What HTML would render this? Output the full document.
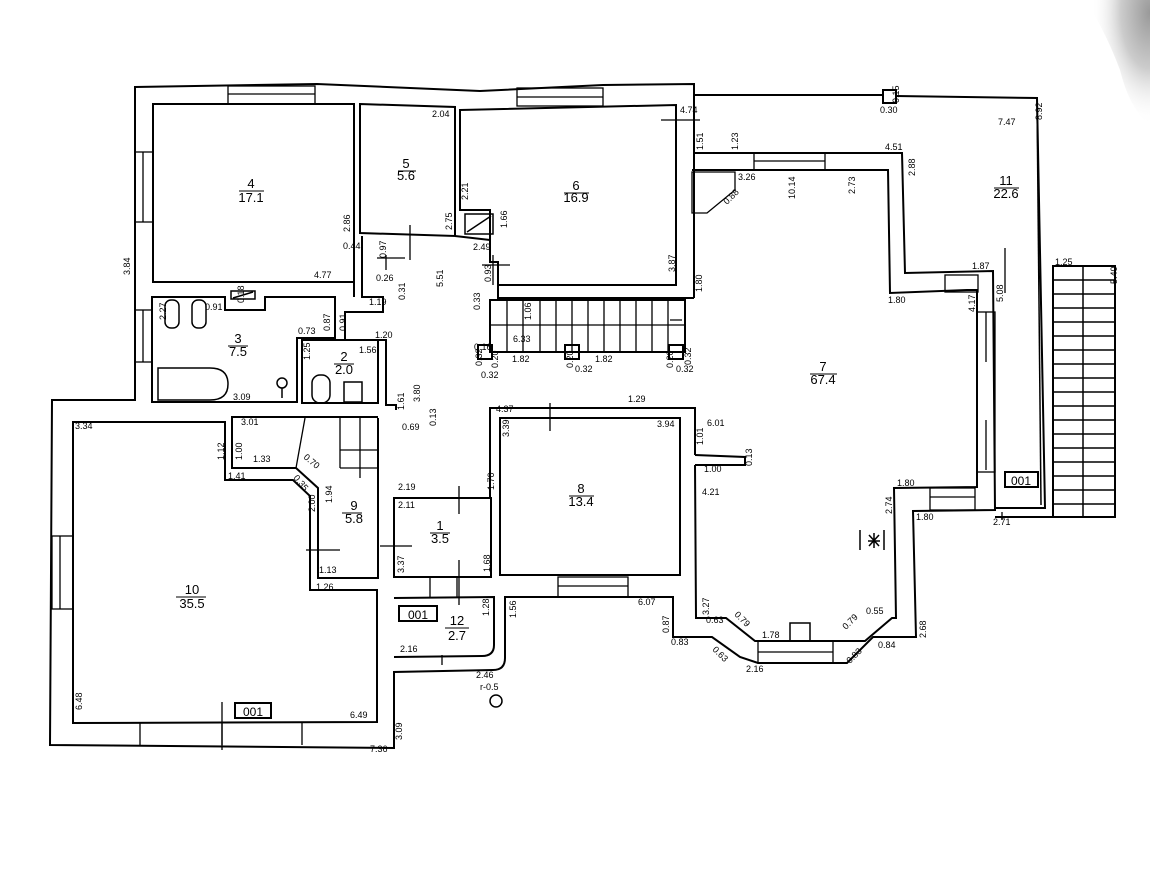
<!DOCTYPE html>
<html><head><meta charset="utf-8"><style>
html,body{margin:0;padding:0;background:#fff;}
svg{display:block;}
text{font-family:"Liberation Sans",sans-serif;fill:#000;}
.d{font-size:9px;}
.n{font-size:13px;font-family:"Liberation Serif",serif;}
</style></head><body>
<svg width="1150" height="894" viewBox="0 0 1150 894" xmlns="http://www.w3.org/2000/svg">
<defs>
<radialGradient id="sm" cx="1" cy="0.1" r="0.9">
<stop offset="0" stop-color="#555"/><stop offset="0.5" stop-color="#aaa"/><stop offset="1" stop-color="#fff" stop-opacity="0"/>
</radialGradient>
</defs>
<rect width="1150" height="894" fill="#fff"/>
<path d="M1085 0 L1150 0 L1150 125 Q1130 110 1120 70 Q1105 30 1085 0Z" fill="url(#sm)" opacity="0.6"/>
<g fill="none" stroke="#000" stroke-width="2">
<path d="M135 87 L317 84 L480 91 L603 85 L694 84 L694 153 L902 153 L905 273 L993 271 L995 510 L913 511 L916 637 L873 637 L847 663 L758 663 L740 657 L712 637 L673 637 L673 597 L505 597 L505 658 Q505 670 493 670 L394 672 L394 748 L50 745 L52 400 L135 400 Z"/>
<path d="M694 95 L883 95 M896 96 L1037 98 L1045 508 L995 508"/>
<path d="M1037 100 L1041 505" stroke-width="1.5"/>
<rect x="883" y="90" width="13" height="13"/>
<path d="M995 517 L1115 517"/>
<rect x="153" y="104" width="201" height="178"/>
<path d="M360 104 L455 107 L455 236 L360 233 Z"/>
<path d="M460 110 L676 105 L676 285 L498 285 L498 262 L490 262 L490 210 L460 210 Z"/>
<path d="M694 153 L694 298"/>
<path d="M354 282 L354 297 M362 236 L362 297 L383 297 L383 312 L345 312 L345 340 L386 340 L386 405 L396 405 L396 410 M455 236 L490 240 L490 210"/>
<path d="M498 285 L498 298 L694 298"/>
<path d="M152 297 L225 297 L225 310 L265 310 L265 297 L335 297 L335 338 L297 338 L297 402 L152 402 Z"/>
<rect x="302" y="340" width="76" height="63"/>
<rect x="490" y="300" width="195" height="52"/>
<path d="M490 325 L685 325 M507 300v52 M523 300v52 M540 300v52 M556 300v52 M572 300v52 M588 300v52 M604 300v52 M620 300v52 M636 300v52 M652 300v52 M668 300v52" stroke-width="1.3"/>
<rect x="478" y="345" width="14" height="14"/><rect x="565" y="345" width="14" height="14"/><rect x="669" y="345" width="14" height="14"/>
<path d="M692 170 L888 170 L890 293 L967 290 L977 290 L977 487 L894 488 L896 618 L892 618 L865 641 L755 641 L726 618 L696 618 L695 465 M695 455 L695 408 L490 408 L490 497"/>
<path d="M695 455 L745 457 L745 465 L695 465"/>
<path d="M692 172 L735 172 L735 190 L707 213 L692 213 Z" stroke-width="1.3"/>
<rect x="500" y="418" width="180" height="157"/>
<rect x="394" y="498" width="97" height="79"/>
<path d="M394 598 L494 597 L494 645 Q494 656 482 656 L394 657"/>
<path d="M378 418 L378 578 L318 578 L318 488 L296 468 L232 468 L232 417 L378 417"/>
<path d="M305 418 L296 468 M340 418v50 M360 418v60 M340 450 L378 450 M340 468 L378 468" stroke-width="1.3"/>
<path d="M73 422 L225 422 L225 480 L293 480 L310 496 L310 590 L377 590 L377 722 L73 723 Z"/>
<path d="M394 672 L394 748"/>
<rect x="1053" y="266" width="62" height="251"/>
<path d="M1083 266v251" stroke-width="1.5"/>
<g stroke-width="1.5">
<path d="M1053 280h62M1053 294h62M1053 308h62M1053 322h62M1053 336h62M1053 350h62M1053 364h62M1053 378h62M1053 392h62M1053 406h62M1053 420h62M1053 434h62M1053 448h62M1053 462h62M1053 476h62M1053 490h62M1053 504h62"/>
</g>
<g stroke-width="1.3">
<rect x="228" y="86" width="87" height="18"/><path d="M228 94h87"/>
<rect x="517" y="88" width="86" height="18"/><path d="M517 97h86"/>
<rect x="754" y="153" width="71" height="17"/><path d="M754 161h71"/>
<rect x="135" y="152" width="18" height="70"/><path d="M143 152v70"/>
<rect x="135" y="310" width="17" height="52"/><path d="M143 310v52"/>
<rect x="52" y="536" width="21" height="73"/><path d="M60 536v73"/>
<rect x="977" y="312" width="18" height="160"/><path d="M986 312v50 M986 420v50"/>
<rect x="930" y="488" width="45" height="22"/><path d="M930 497h45"/>
<rect x="558" y="577" width="70" height="20"/><path d="M558 586h70"/>
<rect x="758" y="641" width="75" height="22"/><path d="M758 652h75"/>
<rect x="945" y="275" width="33" height="17"/>
<path d="M140 722 V745 M222 722 V745 M302 722 V745 M430 578v20 M457 578v20"/>
</g>
<g stroke-width="1.5">
<path d="M158 368 H210 Q228 368 228 384 Q228 400 210 400 H158 Z"/>
<rect x="165" y="300" width="14" height="28" rx="6"/><rect x="192" y="300" width="14" height="28" rx="6"/>
<rect x="231" y="291" width="24" height="8"/><path d="M233 298 L253 292"/>
<circle cx="282" cy="383" r="5"/><path d="M282 388v10"/>
<rect x="312" y="375" width="18" height="28" rx="8"/>
<rect x="344" y="382" width="18" height="20"/>
<rect x="465" y="214" width="28" height="20"/><path d="M467 232 L491 216"/>
<rect x="790" y="623" width="20" height="18"/>
<circle cx="496" cy="701" r="6"/>
<path d="M860 530 V550 M884 530 V550 M868 541 L880 541 M874 533 L874 548 M869 535 L879 546 M879 535 L869 546"/>
</g>
<g stroke-width="1.3">
<path d="M410 225v35 M377 258 H405 M386 270v-15 M482 265 H510 M493 255v30 M661 120 H700 M550 403v28 M459 486v28 M459 560v45 M306 550 H340 M380 546 H412 M222 702v48 M1005 248v45 M1002 512v8 M442 655v10 M670 320 L682 320"/>
</g>
<rect x="399" y="606" width="38" height="15"/>
<rect x="235" y="703" width="36" height="15"/>
<rect x="1005" y="472" width="33" height="15"/>
</g>
<g class="n" text-anchor="middle" stroke="none">
<text x="251" y="188">4</text><text x="251" y="202">17.1</text>
<text x="406" y="168">5</text><text x="406" y="180">5.6</text>
<text x="576" y="190">6</text><text x="576" y="202">16.9</text>
<text x="238" y="343">3</text><text x="238" y="356">7.5</text>
<text x="344" y="361">2</text><text x="344" y="374">2.0</text>
<text x="823" y="371">7</text><text x="823" y="384">67.4</text>
<text x="581" y="493">8</text><text x="581" y="506">13.4</text>
<text x="440" y="530">1</text><text x="440" y="543">3.5</text>
<text x="354" y="510">9</text><text x="354" y="523">5.8</text>
<text x="192" y="594">10</text><text x="192" y="608">35.5</text>
<text x="1006" y="185">11</text><text x="1006" y="198">22.6</text>
<text x="457" y="625">12</text><text x="457" y="640">2.7</text>
</g>
<g stroke="#000" stroke-width="1">
<path d="M239 191h25 M398 171h18 M564 193h25 M228 346h20 M334 364h20 M810 374h27 M569 496h25 M430 533h20 M342 513h20 M176 597h30 M994 188h25 M445 628h24"/>
</g>
<g font-size="12" font-family="Liberation Sans" text-anchor="middle">
<text x="418" y="619">001</text><text x="253" y="716">001</text><text x="1021" y="485">001</text>
</g>
<g class="d">
<text x="432" y="117">2.04</text><text x="680" y="113">4.74</text><text x="343" y="249">0.44</text>
<text x="314" y="278">4.77</text><text x="376" y="281">0.26</text><text x="369" y="305">1.19</text>
<text x="473" y="250">2.49</text><text x="205" y="310">0.91</text><text x="298" y="334">0.73</text>
<text x="375" y="338">1.20</text><text x="359" y="353">1.56</text><text x="233" y="400">3.09</text>
<text x="402" y="430">0.69</text><text x="398" y="490">2.19</text><text x="398" y="508">2.11</text>
<text x="75" y="429">3.34</text><text x="241" y="425" fill="#666">3.01</text><text x="253" y="462">1.33</text>
<text x="228" y="479" fill="#666">1.41</text><text x="319" y="573">1.13</text><text x="316" y="590">1.26</text>
<text x="350" y="718">6.49</text><text x="370" y="752">7.36</text><text x="400" y="652">2.16</text>
<text x="476" y="678">2.46</text><text x="480" y="690">r-0.5</text>
<text x="496" y="412">4.37</text><text x="657" y="427">3.94</text><text x="707" y="426">6.01</text>
<text x="704" y="472">1.00</text><text x="702" y="495">4.21</text><text x="638" y="605">6.07</text>
<text x="671" y="645">0.83</text><text x="762" y="638">1.78</text><text x="746" y="672">2.16</text>
<text x="866" y="614">0.55</text><text x="878" y="648">0.84</text><text x="888" y="303">1.80</text>
<text x="972" y="269">1.87</text><text x="897" y="486">1.80</text><text x="916" y="520">1.80</text>
<text x="993" y="525">2.71</text><text x="1055" y="265">1.25</text><text x="998" y="125">7.47</text>
<text x="880" y="113">0.30</text><text x="885" y="150">4.51</text><text x="738" y="180">3.26</text>
<text x="513" y="342">6.33</text><text x="512" y="362">1.82</text><text x="595" y="362">1.82</text>
<text x="481" y="378">0.32</text><text x="575" y="372">0.32</text><text x="676" y="372">0.32</text>
<text x="474" y="350">0.16</text><text x="628" y="402">1.29</text>
</g>
<g class="d">
<text transform="translate(130,275) rotate(-90)">3.84</text>
<text transform="translate(350,232) rotate(-90)">2.86</text>
<text transform="translate(452,230) rotate(-90)">2.75</text>
<text transform="translate(468,200) rotate(-90)">2.21</text>
<text transform="translate(507,228) rotate(-90)">1.66</text>
<text transform="translate(443,287) rotate(-90)">5.51</text>
<text transform="translate(675,272) rotate(-90)">3.87</text>
<text transform="translate(703,150) rotate(-90)">1.51</text>
<text transform="translate(738,150) rotate(-90)">1.23</text>
<text transform="translate(795,199) rotate(-90)">10.14</text>
<text transform="translate(855,194) rotate(-90)">2.73</text>
<text transform="translate(915,176) rotate(-90)">2.88</text>
<text transform="translate(1042,120) rotate(-90)">8.92</text>
<text transform="translate(1003,302) rotate(-90)">5.08</text>
<text transform="translate(1117,284) rotate(-90)">5.40</text>
<text transform="translate(702,292) rotate(-90)">1.80</text>
<text transform="translate(166,320) rotate(-90)">2.27</text>
<text transform="translate(330,331) rotate(-90)">0.87</text>
<text transform="translate(346,331) rotate(-90)">0.91</text>
<text transform="translate(310,360) rotate(-90)">1.25</text>
<text transform="translate(404,410) rotate(-90)">1.61</text>
<text transform="translate(420,402) rotate(-90)">3.80</text>
<text transform="translate(436,426) rotate(-90)">0.13</text>
<text transform="translate(509,437) rotate(-90)">3.39</text>
<text transform="translate(494,490) rotate(-90)">1.70</text>
<text transform="translate(490,572) rotate(-90)">1.68</text>
<text transform="translate(489,616) rotate(-90)">1.28</text>
<text transform="translate(516,618) rotate(-90)">1.56</text>
<text transform="translate(703,445) rotate(-90)">1.01</text>
<text transform="translate(752,466) rotate(-90)">0.13</text>
<text transform="translate(892,514) rotate(-90)">2.74</text>
<text transform="translate(926,638) rotate(-90)">2.68</text>
<text transform="translate(709,615) rotate(-90)">3.27</text>
<text transform="translate(669,633) rotate(-90)">0.87</text>
<text transform="translate(315,512) rotate(-90)">2.00</text>
<text transform="translate(332,503) rotate(-90)">1.94</text>
<text transform="translate(404,573) rotate(-90)">3.37</text>
<text transform="translate(82,710) rotate(-90)">6.48</text>
<text transform="translate(402,740) rotate(-90)">3.09</text>
<text transform="translate(224,460) rotate(-90)" fill="#666">1.12</text>
<text transform="translate(242,460) rotate(-90)" fill="#666">1.00</text>
<text transform="translate(899,103) rotate(-90)">0.15</text>
<text transform="translate(244,303) rotate(-90)">0.18</text>
<text transform="translate(405,300) rotate(-90)">0.31</text>
<text transform="translate(480,310) rotate(-90)">0.33</text>
<text transform="translate(531,320) rotate(-90)">1.06</text>
<text transform="translate(975,312) rotate(-90)">4.17</text>
<text transform="translate(498,368) rotate(-90)">0.20</text>
<text transform="translate(573,368) rotate(-90)">0.20</text>
<text transform="translate(673,368) rotate(-90)">0.20</text>
<text transform="translate(691,365) rotate(-90)">0.32</text>
<text transform="translate(386,258) rotate(-90)">0.97</text>
<text transform="translate(491,282) rotate(-90)">0.93</text>
<text transform="translate(482,366) rotate(-90)">0.32</text>
<text transform="translate(727,205) rotate(-45)">0.88</text>
<text transform="translate(734,615) rotate(45)">0.79</text>
<text transform="translate(846,630) rotate(-45)">0.79</text>
<text transform="translate(712,650) rotate(45)">0.63</text>
<text transform="translate(850,664) rotate(-45)">0.83</text>
<text transform="translate(706,623)">0.63</text>
<text transform="translate(303,458) rotate(40)">0.70</text>
<text transform="translate(293,478) rotate(50)">0.35</text>
</g>
</svg>
</body></html>
